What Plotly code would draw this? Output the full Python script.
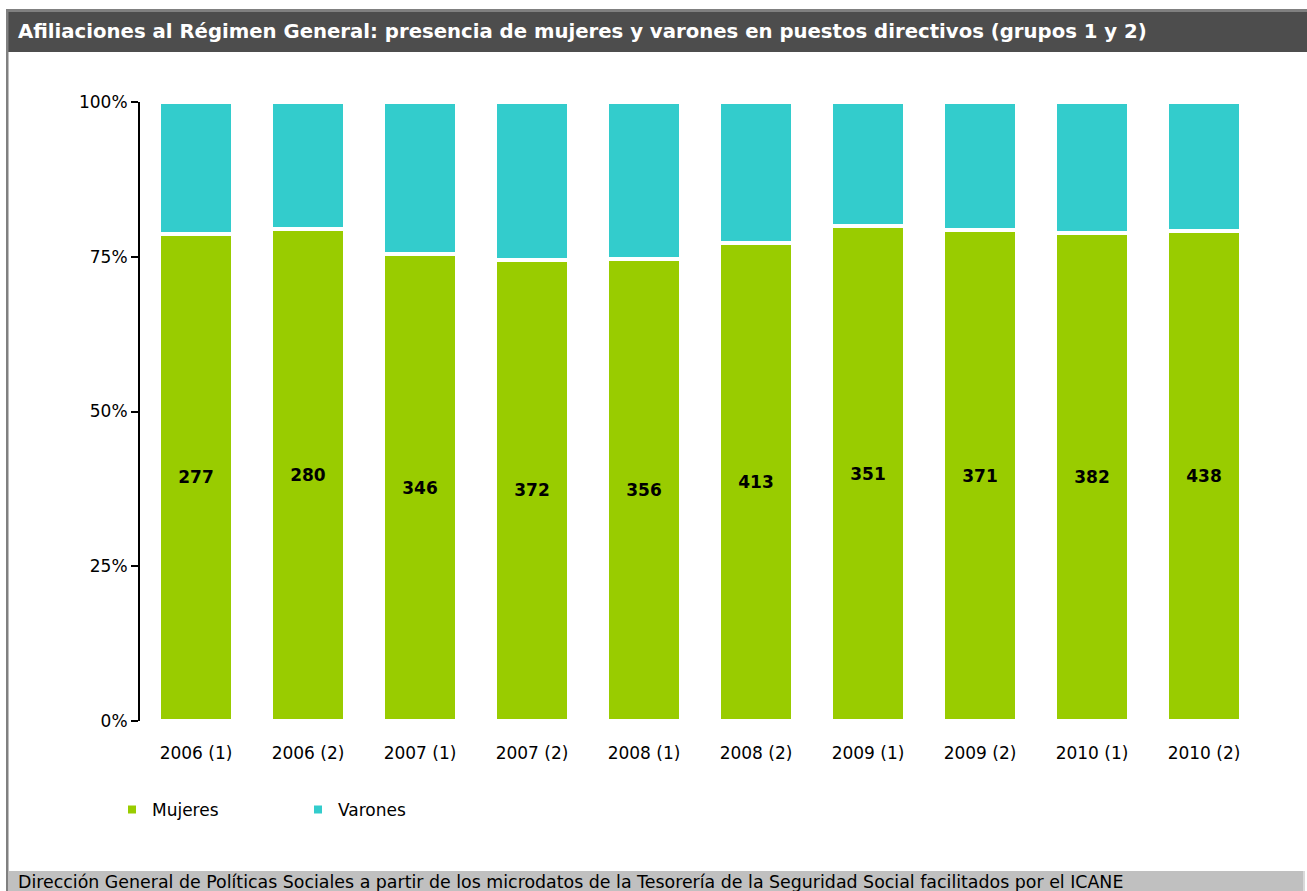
import plotly.graph_objects as go

categories = ["2006 (1)", "2006 (2)", "2007 (1)", "2007 (2)", "2008 (1)",
              "2008 (2)", "2009 (1)", "2009 (2)", "2010 (1)", "2010 (2)"]
mujeres = [277, 280, 346, 372, 356, 413, 351, 371, 382, 438]
varones = [75, 72, 113, 127, 121, 122, 88, 97, 103, 115]
y_ticks = [0, 25, 50, 75, 100]

W, H = 1307, 891
L, R, T, B = 140, 47, 102, 170
PW, PH = W - L - R, H - T - B

def px(x):
    return (x - L) / PW

def py(y):
    return (H - B - y) / PH

GREEN = "#99CC00"
TEAL = "#33CCCC"
FONT = "DejaVu Sans"

fig = go.Figure()
fig.add_trace(go.Bar(
    x=categories, y=mujeres, name="Mujeres",
    marker=dict(color=GREEN, line=dict(color="white", width=4)),
    text=[str(v) for v in mujeres], textposition="inside",
    insidetextanchor="middle",
    textfont=dict(family=FONT, size=17, color="black", weight="bold"),
    hoverinfo="x+y+name",
))
fig.add_trace(go.Bar(
    x=categories, y=varones, name="Varones",
    marker=dict(color=TEAL, line=dict(color="white", width=4)),
    hoverinfo="x+y+name",
))

shapes = [
    dict(type="rect", xref="paper", yref="paper", x0=px(6), x1=px(1307), y0=py(12), y1=py(9),
         fillcolor="#808080", line=dict(width=0), layer="below"),
    dict(type="rect", xref="paper", yref="paper", x0=px(6), x1=px(1307), y0=py(52), y1=py(12),
         fillcolor="#4d4d4d", line=dict(width=0), layer="below"),
    dict(type="rect", xref="paper", yref="paper", x0=px(6), x1=px(8.5), y0=py(891), y1=py(9),
         fillcolor="#808080", line=dict(width=0), layer="below"),
    dict(type="rect", xref="paper", yref="paper", x0=px(8.5), x1=px(1303), y0=py(891), y1=py(871),
         fillcolor="#c0c0c0", line=dict(width=0), layer="below"),
    dict(type="rect", xref="paper", yref="paper", x0=px(1303), x1=px(1305), y0=py(891), y1=py(871),
         fillcolor="#d9d9d9", line=dict(width=0), layer="below"),
]

annotations = [
    dict(text="<b>Afiliaciones al Régimen General: presencia de mujeres y varones en puestos directivos (grupos 1 y 2)</b>",
         xref="paper", yref="paper", x=px(16), y=py(32), xanchor="left", yanchor="middle",
         showarrow=False, font=dict(family=FONT, size=19.7, color="white")),
    dict(text="Dirección General de Políticas Sociales a partir de los microdatos de la Tesorería de la Seguridad Social facilitados por el ICANE",
         xref="paper", yref="paper", x=px(16), y=py(881.5), xanchor="left", yanchor="middle",
         showarrow=False, font=dict(family=FONT, size=17.4, color="black")),
]

fig.update_layout(
    width=W, height=H,
    margin=dict(l=L, r=R, t=T, b=B, autoexpand=False),
    paper_bgcolor="white", plot_bgcolor="white",
    barmode="stack", barnorm="percent", bargap=0.34,
    font=dict(family=FONT, size=17, color="black"),
    shapes=shapes, annotations=annotations,
    showlegend=True,
    legend=dict(orientation="h", traceorder="normal",
                x=px(112), y=py(810), xanchor="left", yanchor="middle",
                entrywidth=141, entrywidthmode="pixels",
                font=dict(family=FONT, size=17, color="black"),
                bgcolor="rgba(0,0,0,0)"),
    xaxis=dict(showline=False, ticks="", showgrid=False, zeroline=False,
               tickfont=dict(family=FONT, size=17), ticklabelstandoff=20),
    yaxis=dict(range=[0, 100], tickvals=y_ticks, ticktext=[f"{v}%" for v in y_ticks],
               showline=True, linecolor="black", linewidth=2,
               ticks="outside", ticklen=7, tickwidth=2, tickcolor="black",
               showgrid=False, zeroline=False,
               tickfont=dict(family=FONT, size=17)),
)

fig.write_html("out.html", config={"displayModeBar": False},
               post_script="document.body.style.margin='0';")
